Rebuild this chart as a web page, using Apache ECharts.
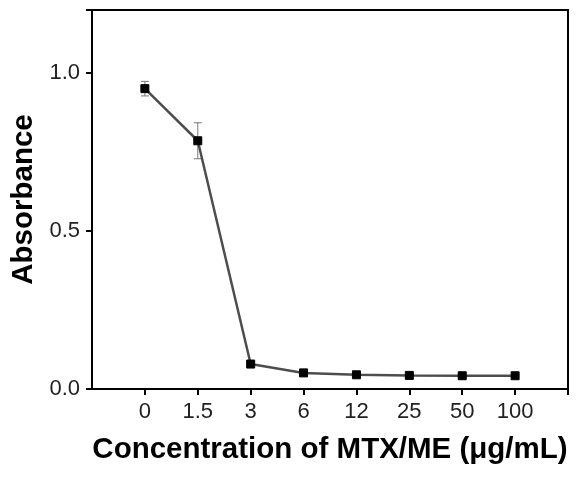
<!DOCTYPE html>
<html><head><meta charset="utf-8">
<script src="https://cdn.jsdelivr.net/npm/echarts@6/dist/echarts.min.js"></script>
<style>html,body{margin:0;padding:0;background:#fff}#c{width:576px;height:478px}</style>
</head><body><div id="c"></div>
<script>
const categories = ['0','1.5','3','6','12','25','50','100'];
const absorbance = [0.951, 0.786, 0.079, 0.051, 0.045, 0.043, 0.042, 0.042];
const errors = [0.023, 0.057, 0.004, 0.003, 0.002, 0.002, 0.002, 0.002];
const yTicks = [0, 0.5, 1.0];

const axisCats = [''].concat(categories, ['']);
const lineData = categories.map((c, i) => [c, absorbance[i]]);
const errData = categories.map((c, i) => [c, absorbance[i] - errors[i], absorbance[i] + errors[i]]);

const chart = echarts.init(document.getElementById('c'));
const font = 'Liberation Sans, Arial, sans-serif';
chart.setOption({
  animation: false,
  grid: {left: 92, top: 10, right: 8, bottom: 89, show: true, borderColor: '#000', borderWidth: 2},
  xAxis: {
    type: 'category', data: axisCats, boundaryGap: false,
    axisLine: {lineStyle: {color: '#000', width: 2}},
    axisTick: {inside: false, length: 6, interval: (i) => i !== 0, lineStyle: {color: '#000', width: 2}},
    axisLabel: {color: '#222', fontSize: 22, fontFamily: font, margin: 12},
    name: 'Concentration of MTX/ME (μg/mL)', nameLocation: 'middle', nameGap: 46,
    nameTextStyle: {color: '#000', fontSize: 29.5, fontWeight: 'bold', fontFamily: font},
    splitLine: {show: false}
  },
  yAxis: {
    type: 'value', min: 0, max: 1.2, interval: 0.5,
    axisLine: {show: true, lineStyle: {color: '#000', width: 2}},
    axisTick: {show: true, length: 6, lineStyle: {color: '#000', width: 2}},
    axisLabel: {color: '#222', fontSize: 22, fontFamily: font, margin: 12,
      formatter: v => yTicks.indexOf(v) >= 0 ? v.toFixed(1) : ''},
    splitLine: {show: false},
    name: 'Absorbance', nameLocation: 'middle', nameGap: 46,
    nameTextStyle: {color: '#000', fontSize: 29.5, fontWeight: 'bold', fontFamily: font}
  },
  series: [
    {type: 'custom', data: errData, z: 1,
      renderItem: function (params, api) {
        const lo = api.coord([api.value(0), api.value(1)]);
        const hi = api.coord([api.value(0), api.value(2)]);
        const w = 4;
        const st = {stroke: '#777', lineWidth: 1};
        return {type: 'group', children: [
          {type: 'line', shape: {x1: lo[0], y1: lo[1], x2: hi[0], y2: hi[1]}, style: st},
          {type: 'line', shape: {x1: lo[0]-w, y1: lo[1], x2: lo[0]+w, y2: lo[1]}, style: st},
          {type: 'line', shape: {x1: hi[0]-w, y1: hi[1], x2: hi[0]+w, y2: hi[1]}, style: st}
        ]};
      }
    },
    {type: 'line', data: lineData, z: 2,
      symbol: 'rect', symbolSize: 8,
      itemStyle: {color: '#000', borderColor: '#000'},
      lineStyle: {color: '#4d4d4d', width: 2.5}
    }
  ]
});
</script></body></html>
